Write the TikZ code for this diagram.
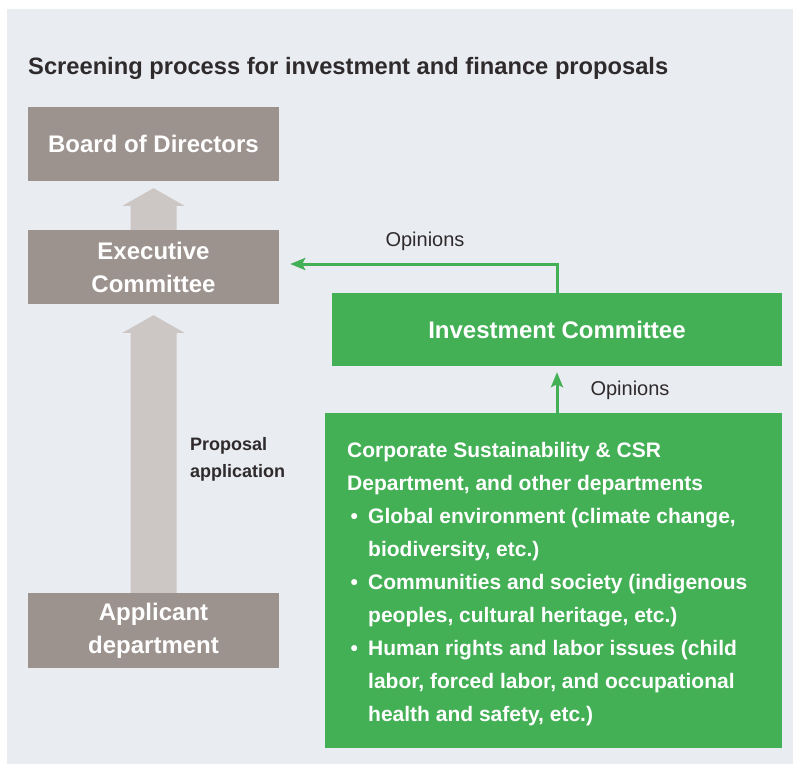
\documentclass[tikz,border=0pt]{standalone}
\usepackage{fontspec}
\setmainfont{Liberation Sans}
\usetikzlibrary{arrows.meta,calc}
\definecolor{panel}{HTML}{E9ECF1}
\definecolor{boxgray}{HTML}{9C938F}
\definecolor{arrowgray}{HTML}{CCC7C4}
\definecolor{csgreen}{HTML}{43B055}
\definecolor{darktext}{HTML}{2F2A2B}
\tikzset{
  graybox/.style={fill=boxgray, text=white, font=\fontsize{24}{33}\selectfont\bfseries,
    minimum width=251pt, inner sep=0pt, align=center},
  greenbox/.style={fill=csgreen, text=white, inner sep=0pt},
  lbl/.style={text=darktext, inner sep=0pt},
  blockarrow/.style={fill=arrowgray},
  opinion/.style={draw=csgreen, line width=3pt, -{Stealth[length=15pt,width=12pt,inset=3pt]}}
}
\begin{document}
\begin{tikzpicture}[x=1pt,y=-1pt]
\useasboundingbox (0,0) rectangle (793,764);
\fill[white] (0,0) rectangle (793,764);
\fill[panel] (7,9) rectangle (793,764);

\node[lbl, anchor=base west, font=\fontsize{23.7}{28}\selectfont\bfseries] (title) at (28,74)
  {Screening process for investment and finance proposals};

\node[graybox, minimum height=74pt] (board) at (153.5,144) {Board of Directors};
\node[graybox, minimum height=74pt] (exec) at (153.5,267) {Executive\\Committee};
\node[graybox, minimum height=75pt] (appl) at (153.5,630.5) {Applicant\\department};

\node[greenbox, minimum width=450pt, minimum height=73pt,
  font=\fontsize{24}{28}\selectfont\bfseries] (ic) at (557,329.5) {Investment Committee};
\node[greenbox, minimum width=457pt, minimum height=335pt] (csr) at (553.5,580.5) {};

\node[lbl, text=white, anchor=north west, align=left,
  font=\fontsize{21}{33}\selectfont\bfseries] (csrtext) at (347,442)
  {Corporate Sustainability \& CSR\\
   Department, and other departments\\
   \makebox[21pt][l]{\,•}Global environment (climate change,\\
   \hspace*{21pt}biodiversity, etc.)\\
   \makebox[21pt][l]{\,•}Communities and society (indigenous\\
   \hspace*{21pt}peoples, cultural heritage, etc.)\\
   \makebox[21pt][l]{\,•}Human rights and labor issues (child\\
   \hspace*{21pt}labor, forced labor, and occupational\\
   \hspace*{21pt}health and safety, etc.)};

% block arrows
\fill[blockarrow] ([xshift=-23pt]exec.north) -- ([xshift=-23pt,yshift=24pt]exec.north)
  -- ([xshift=-31pt,yshift=24pt]exec.north) -- ([yshift=-7pt]board.south)
  -- ([xshift=31pt,yshift=24pt]exec.north) -- ([xshift=23pt,yshift=24pt]exec.north)
  -- ([xshift=23pt]exec.north) -- cycle;
\fill[blockarrow] ([xshift=-23pt]appl.north) -- ([xshift=-23pt,yshift=260pt]appl.north)
  -- ([xshift=-31pt,yshift=260pt]appl.north) -- ([yshift=-11pt]exec.south)
  -- ([xshift=31pt,yshift=260pt]appl.north) -- ([xshift=23pt,yshift=260pt]appl.north)
  -- ([xshift=23pt]appl.north) -- cycle;

\node[lbl, anchor=base west, align=left, font=\fontsize{18}{27}\selectfont\bfseries] (prop) at (190,477)
  {Proposal\\application};

% opinions connectors
\draw[opinion, shorten >=11pt] (ic.north) |- ([yshift=3pt]exec.east);
\draw[opinion, shorten >=6pt] (ic.south |- csr.north) -- (ic.south);
\node[lbl, anchor=base, font=\fontsize{20}{24}\selectfont] (op1) at (425,246) {Opinions};
\node[lbl, anchor=base, font=\fontsize{20}{24}\selectfont] (op2) at (630,395) {Opinions};
\end{tikzpicture}
\end{document}
